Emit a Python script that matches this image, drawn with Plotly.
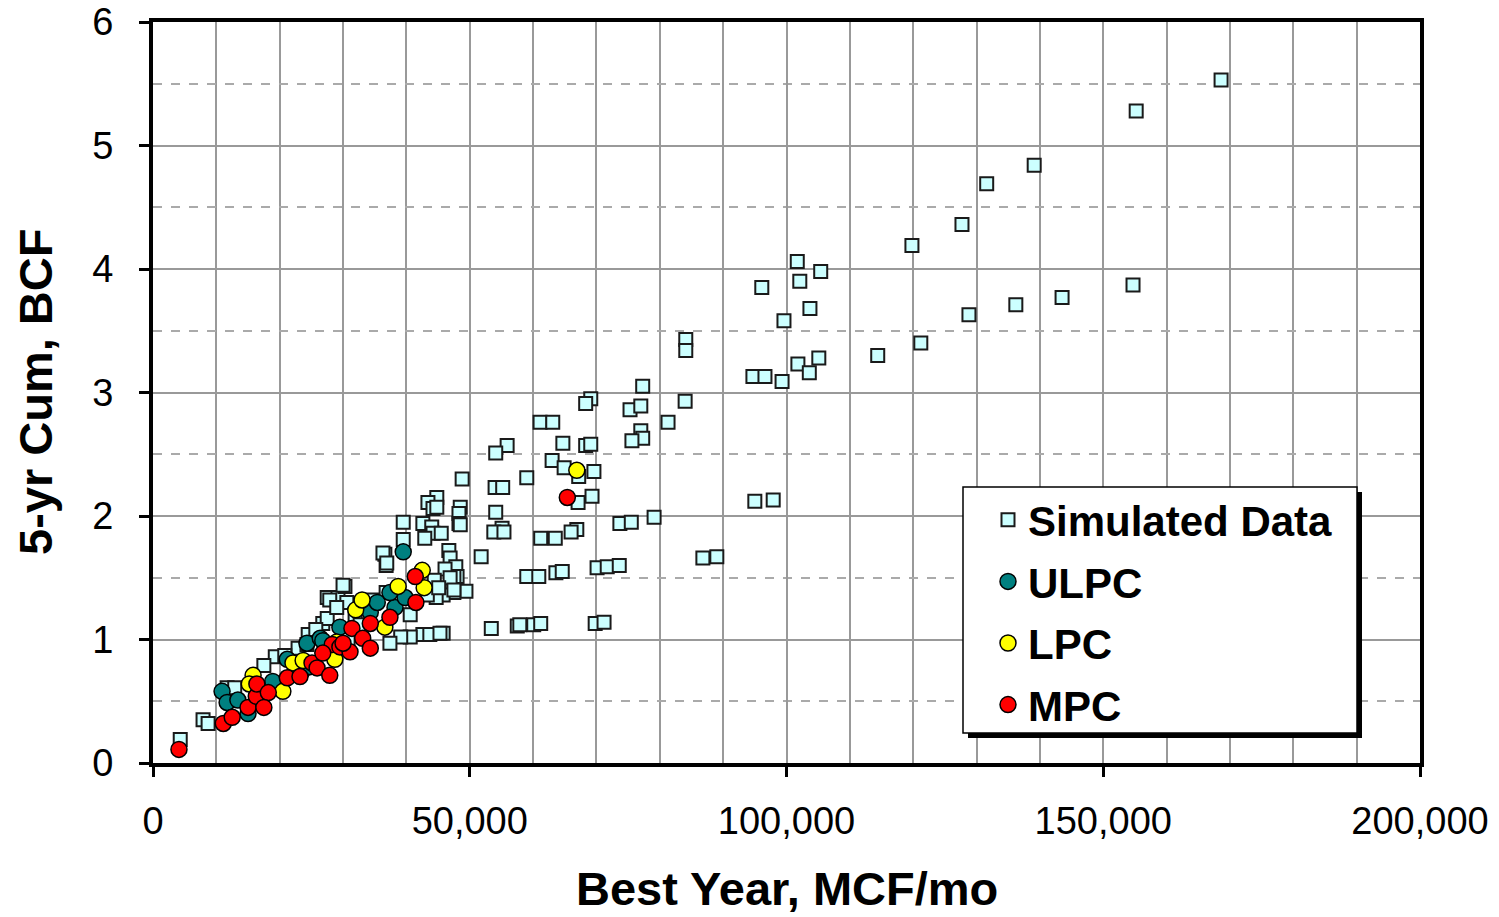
import plotly.graph_objects as go

# Simulated wells: best-year rate (MCF/mo) vs 5-year cumulative (BCF)
sim_x = [168600, 155200, 139100, 131600, 127700, 119800, 154700, 143500, 136200, 128800,
         121200, 114400, 101700, 105400, 102100, 96100, 103700, 99600, 105100, 101800,
         103600, 94700, 96600, 99300, 95000, 97900, 84100, 84100, 77300, 84000,
         69100, 68300, 75300, 77000, 77000, 77300, 75600, 81300, 61100, 63100,
         64700, 68300, 69100, 55900, 54100, 63000, 64900, 59000, 48800, 69600,
         67200, 67100, 69300, 66900, 66000, 73700, 75500, 79100, 54000, 55200,
         54100, 55100, 53800, 55400, 61200, 63500, 51800, 70100, 71700, 73600,
         59000, 60900, 63600, 64600, 86800, 89000, 53400, 57500, 57900, 60100,
         61200, 69800, 71200,
         46700, 49400, 47500, 45800, 45800, 44800, 43400, 44200, 44800, 48500,
         48300, 48300, 39500, 42600, 44000, 44200, 45500, 42900, 48500, 39500,
         36600, 36800, 46900, 47800, 48000, 47500, 46100, 46900, 47500, 44700,
         43300, 42600, 43700, 45300, 40600, 39100, 37400, 44400, 45100, 40600,
         4300, 7900, 8700, 11700, 12900, 19300, 22900, 24500, 24300, 26800,
         27500, 27500, 29200, 30300, 30000, 27900, 30600, 29000, 36300, 36900,
         17500, 20800, 25700, 31900, 32700, 34600, 30800, 36800]
sim_y = [5.53, 5.28, 4.84, 4.69, 4.36, 4.19, 3.87, 3.77, 3.71, 3.63,
         3.40, 3.30, 4.06, 3.98, 3.90, 3.85, 3.68, 3.58, 3.28, 3.23,
         3.16, 3.13, 3.13, 3.09, 2.12, 2.13, 3.43, 3.34, 3.05, 2.93,
         2.95, 2.91, 2.86, 2.89, 2.69, 2.63, 2.61, 2.76, 2.76, 2.76,
         2.59, 2.57, 2.58, 2.57, 2.51, 2.45, 2.39, 2.31, 2.30, 2.36,
         2.32, 2.11, 2.16, 1.89, 1.87, 1.94, 1.95, 1.99, 2.23, 2.23,
         2.03, 1.90, 1.87, 1.87, 1.82, 1.82, 1.67, 1.58, 1.59, 1.60,
         1.51, 1.51, 1.54, 1.55, 1.66, 1.67, 1.09, 1.11, 1.12, 1.12,
         1.13, 1.13, 1.14,
         1.72, 1.39, 1.38, 1.36, 1.05, 2.15, 2.11, 2.06, 2.07, 2.07,
         2.02, 1.94, 1.95, 1.94, 1.91, 1.86, 1.86, 1.82, 1.93, 1.81,
         1.69, 1.60, 1.66, 1.59, 1.51, 1.51, 1.57, 1.50, 1.40, 1.34,
         1.36, 1.04, 1.04, 1.05, 1.02, 1.02, 0.97, 1.48, 1.42, 1.20,
         0.19, 0.35, 0.32, 0.61, 0.61, 0.86, 0.93, 1.04, 0.96, 1.13,
         1.17, 1.34, 1.34, 1.43, 1.44, 1.32, 1.30, 1.26, 1.70, 1.62,
         0.79, 0.87, 1.08, 1.20, 1.12, 1.32, 1.00, 1.38]

ulpc_x = [10900, 11700, 13400, 15000, 16900, 18900, 21200, 23500, 24800, 24300,
          26400, 26800, 29500, 34300, 35400, 38200, 39800, 37400, 39500]
ulpc_y = [0.58, 0.49, 0.51, 0.40, 0.59, 0.66, 0.84, 0.74, 0.78, 0.97,
          1.01, 0.99, 1.10, 1.22, 1.30, 1.26, 1.34, 1.38, 1.71]

lpc_x = [15800, 15200, 20500, 22100, 23700, 28700, 29000, 32000, 33000, 36600,
         38700, 42500, 42800, 66900]
lpc_y = [0.71, 0.64, 0.58, 0.81, 0.83, 0.84, 0.98, 1.24, 1.32, 1.10,
         1.43, 1.56, 1.42, 2.37]

mpc_x = [4100, 11100, 12500, 15000, 16300, 16400, 18200, 17500, 21200, 23200,
         25100, 25900, 27900, 28300, 29500, 31100, 31400, 33100, 34300, 34300,
         37400, 41400, 41500, 30000, 26800, 65400]
mpc_y = [0.11, 0.32, 0.37, 0.45, 0.54, 0.64, 0.57, 0.45, 0.69, 0.70,
         0.81, 0.77, 0.71, 0.96, 0.94, 0.90, 1.09, 1.01, 1.13, 0.93,
         1.18, 1.51, 1.30, 0.97, 0.89, 2.15]

x_ticks = [0, 50000, 100000, 150000, 200000]
x_tick_text = ["0", "50,000", "100,000", "150,000", "200,000"]

FONT = "Arial, Liberation Sans, sans-serif"

fig = go.Figure()
fig.add_trace(go.Scatter(
    x=sim_x, y=sim_y, mode="markers", name="Simulated Data", legendgroup="a",
    marker=dict(symbol="square", size=13, color="#ccffff",
                line=dict(color="#1a1a1a", width=2))))
fig.add_trace(go.Scatter(
    x=ulpc_x, y=ulpc_y, mode="markers", name="ULPC", legendgroup="b",
    marker=dict(symbol="circle", size=16, color="#008080",
                line=dict(color="#000000", width=1.5))))
fig.add_trace(go.Scatter(
    x=lpc_x, y=lpc_y, mode="markers", name="LPC", legendgroup="c",
    marker=dict(symbol="circle", size=16, color="#ffff00",
                line=dict(color="#000000", width=1.5))))
fig.add_trace(go.Scatter(
    x=mpc_x, y=mpc_y, mode="markers", name="MPC", legendgroup="d",
    marker=dict(symbol="circle", size=16, color="#ff0000",
                line=dict(color="#000000", width=1.5))))

W, H = 1499, 917
L, R, T, B = 153, 1420, 22, 763
pw, ph = R - L, B - T


def px_x(p):
    return (p - L) / pw


def px_y(p):
    return (B - p) / ph


shapes = [
    # legend shadow and box
    dict(type="rect", xref="paper", yref="paper", layer="above",
         x0=px_x(968), x1=px_x(1362), y0=px_y(738), y1=px_y(492),
         fillcolor="#000000", line=dict(width=0)),
    dict(type="rect", xref="paper", yref="paper", layer="above",
         x0=px_x(963), x1=px_x(1357), y0=px_y(733), y1=px_y(487),
         fillcolor="#ffffff", line=dict(color="#000000", width=1.5)),
]

fig.update_layout(
    width=W, height=H,
    margin=dict(l=L, r=W - R, t=T, b=H - B, autoexpand=False),
    paper_bgcolor="#ffffff", plot_bgcolor="#ffffff",
    font=dict(family=FONT, color="#000000"),
    shapes=shapes,
    showlegend=True,
    legend=dict(x=px_x(988), y=px_y(486), xanchor="left", yanchor="top",
                bgcolor="rgba(0,0,0,0)", borderwidth=0,
                font=dict(family=FONT, size=42, color="#000000", weight="bold"),
                tracegroupgap=4, itemsizing="trace"),
    annotations=[
        dict(text="<b>Best Year, MCF/mo</b>", xref="paper", yref="paper",
             x=0.5, y=px_y(888), xanchor="center", yanchor="middle",
             showarrow=False, font=dict(family=FONT, size=47, color="#000000")),
        dict(text="<b>5-yr Cum, BCF</b>", xref="paper", yref="paper",
             x=px_x(35), y=px_y(392), xanchor="center", yanchor="middle",
             textangle=-90, showarrow=False,
             font=dict(family=FONT, size=47, color="#000000")),
    ],
)

fig.update_xaxes(
    range=[0, 200000], tickvals=x_ticks, ticktext=x_tick_text,
    showgrid=True, gridcolor="#999999", gridwidth=1.5,
    minor=dict(dtick=10000, showgrid=True, gridcolor="#999999", gridwidth=1.5),
    zeroline=False, showline=True, linecolor="#000000", linewidth=4, mirror=True,
    ticks="outside", ticklen=10, tickwidth=3, tickcolor="#000000",
    ticklabelstandoff=11,
    tickfont=dict(family=FONT, size=38, color="#000000"),
)
fig.update_yaxes(
    range=[0, 6], dtick=1, tick0=0,
    showgrid=True, gridcolor="#999999", gridwidth=1.5,
    minor=dict(dtick=0.5, showgrid=True, gridcolor="#aaaaaa", gridwidth=1.5,
               griddash="dash"),
    zeroline=False, showline=True, linecolor="#000000", linewidth=4, mirror=True,
    ticks="outside", ticklen=10, tickwidth=3, tickcolor="#000000",
    ticklabelstandoff=18,
    tickfont=dict(family=FONT, size=38, color="#000000"),
)

fig.write_html("out.html")
